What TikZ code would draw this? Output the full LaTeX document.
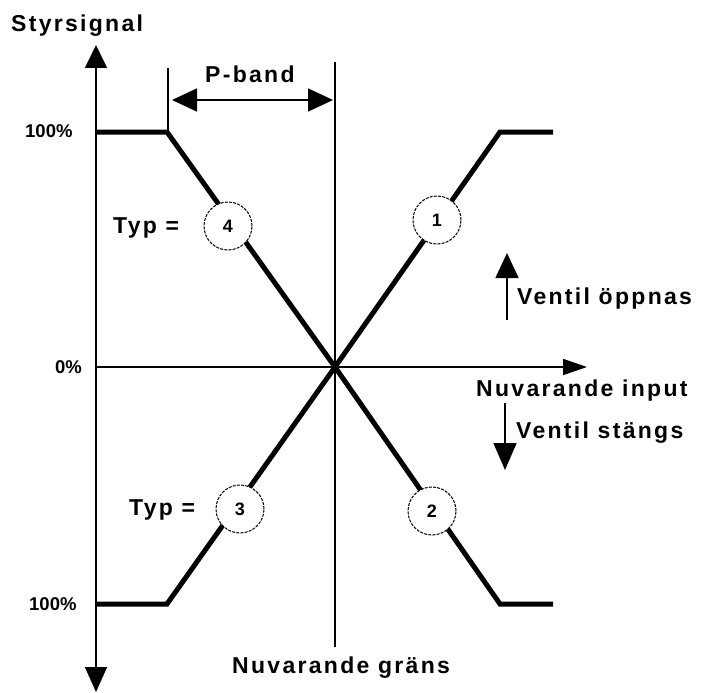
\documentclass[tikz,border=0pt]{standalone}
\usepackage{fontspec}
\setmainfont{Liberation Sans}
\newfontfamily\lbl[LetterSpace=10]{Liberation Sans}
\usetikzlibrary{arrows.meta}
\begin{document}
\begin{tikzpicture}[x=1pt,y=-1pt,
  axisline/.style={line width=1.6pt},
  heavy/.style={line width=5pt, line join=miter},
  lab/.style={inner sep=0pt, anchor=base west, font=\fontsize{23}{27}\selectfont\lbl\bfseries},
  pct/.style={inner sep=0pt, anchor=base west, font=\fontsize{18.5}{22}\selectfont\bfseries},
  circ/.style={circle, draw, dash pattern=on 3pt off 1.2pt, line width=1pt, fill=white,
    minimum size=48pt, inner sep=0pt, font=\fontsize{18}{21}\selectfont\bfseries}]
\useasboundingbox (0,0) rectangle (702,693);
% coordinates
\coordinate (ytop) at (96,45);
\coordinate (ybot) at (96,692);
\coordinate (x0) at (96,367);
\coordinate (xend) at (587,367);
\coordinate (gtop) at (335,62);
\coordinate (gbot) at (335,647);
\coordinate (ttop) at (168,68);
\coordinate (tbot) at (168,132);
\coordinate (pl) at (172,100);
\coordinate (pr) at (333,100);
\coordinate (uo) at (507,320);
\coordinate (ut) at (507,253);
\coordinate (do) at (505,403);
\coordinate (dt) at (505,470);
% axes
\draw[axisline,{Triangle[length=23pt,width=22pt]}-{Triangle[length=25pt,width=22pt]}] (ytop) -- (ybot);
\draw[axisline,-{Triangle[length=24pt,width=16pt]}] (x0) -- (xend);
\draw[axisline] (gtop) -- (gbot);
\draw[axisline] (ttop) -- (tbot);
\draw[axisline,{Triangle[length=25pt,width=23pt]}-{Triangle[length=25pt,width=23pt]}] (pl) -- (pr);
\draw[axisline,-{Triangle[length=25pt,width=23pt]}] (uo) -- (ut);
\draw[axisline,-{Triangle[length=27pt,width=23pt]}] (do) -- (dt);
% characteristic curves
\draw[heavy] (96,132) -- (167,132) -- (335,367) -- (500,604) -- (553,604);
\draw[heavy] (96,604) -- (167,604) -- (335,367) -- (500,132) -- (553,132);
% circles
\node[circ] (c4) at (228,226) {4};
\node[circ] (c1) at (437,220) {1};
\node[circ] (c3) at (240,509) {3};
\node[circ] (c2) at (432,511) {2};
% labels
\node[lab] (styr) at (11,32) {Styrsignal};
\node[lab] (pband) at (205,83) {P-band};
\node[pct] (p100a) at (25,137) {100\%};
\node[pct] (p100b) at (29,610) {100\%};
\node[pct,anchor=base east] (p0) at (82,373) {0\%};
\node[lab] (typ4) at (113,233) {Typ =};
\node[lab] (typ3) at (129,515) {Typ =};
\node[lab] (vopp) at (517,304) {Ventil öppnas};
\node[lab] (ninp) at (476,396) {Nuvarande input};
\node[lab] (vst) at (516,438) {Ventil stängs};
\node[lab] (ngr) at (232,673) {Nuvarande gräns};
\end{tikzpicture}
\end{document}
